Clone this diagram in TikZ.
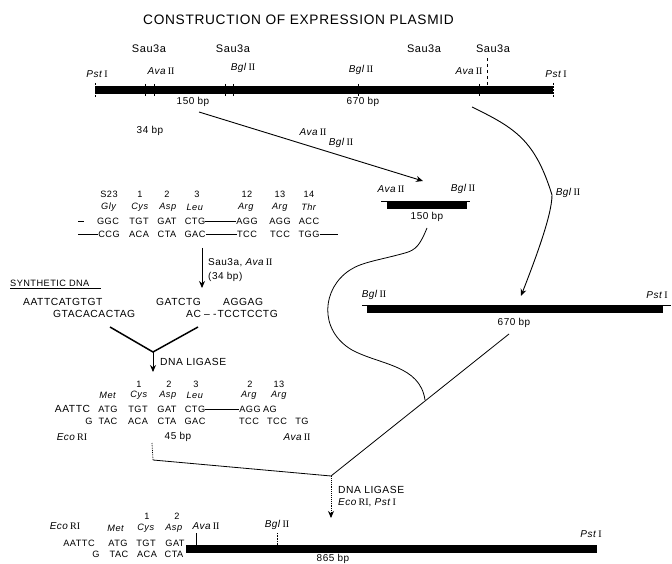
\documentclass[tikz,border=0pt]{standalone}
\usepackage{fontspec}
\setmainfont{Liberation Sans}[LetterSpace=5]
\newfontfamily\romfont{Liberation Serif}
\usetikzlibrary{arrows.meta}
\newcommand{\enz}[2]{\textit{#1}\,{\romfont #2}}
\tikzstyle{txt} = [inner sep=0pt, font=\fontsize{10.3}{11}\selectfont]
\tikzstyle{lab} = [inner sep=0pt, font=\fontsize{10}{11}\selectfont]
\tikzstyle{codon} = [inner sep=0pt, font=\fontsize{9.2}{10}\selectfont]
\tikzstyle{site} = [inner sep=0pt, font=\fontsize{11}{12}\selectfont]
\tikzstyle{bar} = [fill=black, inner sep=0pt, minimum height=8pt]
\tikzstyle{conn} = [line width=0.8pt]
\tikzstyle{arr} = [line width=0.9pt, -{Stealth[length=7pt,width=6pt]}]
\begin{document}
\begin{tikzpicture}[x=1pt,y=-1pt]
	\useasboundingbox (0,0) rectangle (672,564);
	\node[txt, font=\fontsize{13.7}{14}\selectfont] (title) at (298.5,20) {CONSTRUCTION OF EXPRESSION PLASMID};

	% parent plasmid
	\node[bar, minimum width=458pt] (topbar) at (324,90) {};
	\foreach \x in {145,154,225,233,358,479} {
		\draw[line width=0.5pt] (\x,84) -- (\x,96);
	}
	\draw[dashed, line width=0.5pt] (487,58) -- (487,94);
	\draw[densely dotted, line width=0.5pt] (95,83) -- (95,97) (553,83) -- (553,97);
	\foreach \x/\n in {149/a,233/b,424/c,493/d} {
		\node[site] (sau\n) at (\x,49) {Sau3a};
	}
	\node[lab] (psta) at (97,74) {\enz{Pst}{I}};
	\node[lab] (avaa) at (161,71) {\enz{Ava}{II}};
	\node[lab] (bgla) at (243,68) {\enz{Bgl}{II}};
	\node[lab] (bglb) at (361,70) {\enz{Bgl}{II}};
	\node[lab] (avab) at (469,71) {\enz{Ava}{II}};
	\node[lab] (pstb) at (556,74) {\enz{Pst}{I}};
	\node[lab] (bpa) at (193,102) {150 bp};
	\node[lab] (bpb) at (363,102) {670 bp};
	\node[lab] (bpc) at (150,131) {34 bp};

	% 150 bp fragment
	\node[bar, minimum width=80pt] (smallbar) at (427,205) {};
	\draw[line width=0.5pt] (381,201) -- (470,201);
	\node[lab] (avac) at (391,189) {\enz{Ava}{II}};
	\node[lab] (bglc) at (463,189) {\enz{Bgl}{II}};
	\node[lab] (bpd) at (427,217) {150 bp};
	\node[lab] (avad) at (313,132) {\enz{Ava}{II}};
	\node[lab] (bgld) at (341,143) {\enz{Bgl}{II}};
	\coordinate (froma) at (199,112);
	\coordinate (toa) at (423,181);
	\draw[arr] (froma) -- (toa);

	% 670 bp fragment
	\node[bar, minimum width=296pt] (midbar) at (515,309) {};
	\draw[line width=0.5pt] (362,305) -- (671,305);
	\node[lab] (bgle) at (374,295) {\enz{Bgl}{II}};
	\node[lab] (pstc) at (657,295) {\enz{Pst}{I}};
	\node[lab] (bpe) at (514,323) {670 bp};
	\node[lab] (bglf) at (568,193) {\enz{Bgl}{II}};
	\coordinate (fromb) at (472,107);
	\coordinate (tob) at (521,296);
	\draw[arr] (fromb) .. controls (515,128) and (535,140) .. (552,195) .. controls (552,215) and (535,260) .. (tob);

	% first codon table
	\foreach \x/\t/\n in {109/S23/a,140/1/b,167/2/c,197/3/d,247/12/e,280/13/f,309/14/g} {
		\node[codon] (numa\n) at (\x,194) {\t};
	}
	\foreach \x/\t/\n in {109/Gly/a,140/Cys/b,168/Asp/c,195/Leu/d,246/Arg/e,280/Arg/f,309/Thr/g} {
		\node[codon] (nama\n) at (\x,207) {\textit{\t}};
	}
	\foreach \x/\t/\n in {108/GGC/a,139/TGT/b,167/GAT/c,195/CTG/d,247/AGG/e,280/AGG/f,309/ACC/g} {
		\node[codon] (toprowa\n) at (\x,221) {\t};
	}
	\foreach \x/\t/\n in {109/CCG/a,139/ACA/b,167/CTA/c,195/GAC/d,247/TCC/e,280/TCC/f,309/TGG/g} {
		\node[codon] (botrowa\n) at (\x,234) {\t};
	}
	\draw[conn] (78,221) -- (84,221);
	\draw[conn] (toprowad.east) -- (toprowae.west);
	\draw[conn] (78,234) -- (botrowaa.west);
	\draw[conn] (botrowad.east) -- (botrowae.west);
	\draw[conn] (botrowag.east) -- (338,234);

	\coordinate (fromc) at (202,248);
	\coordinate (toc) at (202,288);
	\draw[arr] (fromc) -- (toc);
	\node[lab, anchor=west] (cuta) at (208,263) {Sau3a, \enz{Ava}{II}};
	\node[lab, anchor=west] (cutb) at (208,277) {(34 bp)};

	% synthetic DNA
	\node[codon, anchor=west] (syn) at (10,283) {SYNTHETIC DNA};
	\draw[line width=0.6pt] (10,288) -- (101,288);
	\node[txt, anchor=west] (syna) at (23,302) {AATTCATGTGT};
	\node[txt, anchor=west] (synb) at (53,314) {GTACACACTAG};
	\node[txt, anchor=west] (gat) at (156,302) {GATCTG};
	\node[txt, anchor=west] (agg) at (223,302) {AGGAG};
	\node[txt, anchor=west] (acc) at (186,314) {AC\hspace{3pt}-- -\hspace{1pt}TCCTCCTG};
	\coordinate (yl) at (110,327);
	\coordinate (yr) at (198,327);
	\coordinate (yc) at (153,352);
	\coordinate (yb) at (153,372);
	\draw[line width=1.5pt] (yl) -- (yc) -- (yr);
	\draw[arr] (yc) -- (yb);
	\node[txt, anchor=west] (liga) at (160,362) {DNA LIGASE};

	% second codon table
	\foreach \x/\t/\n in {139/1/a,169/2/b,196/3/c,250/2/d,279/13/e} {
		\node[codon] (numb\n) at (\x,384) {\t};
	}
	\foreach \x/\t/\n in {108/Met/a,139/Cys/b,168/Asp/c,195/Leu/d,249/Arg/e,279/Arg/f} {
		\node[codon] (namb\n) at (\x,395) {\textit{\t}};
	}
	\foreach \x/\t/\n in {108/ATG/b,138/TGT/c,167/GAT/d,195/CTG/e,250/AGG/f,270/AG/g} {
		\node[codon] (toprowb\n) at (\x,409) {\t};
	}
	\node[txt] (toprowba) at (72.5,409) {AATTC};
	\foreach \x/\t/\n in {89/G/a,108/TAC/b,138/ACA/c,167/CTA/d,195/GAC/e,249/TCC/f,277/TCC/g,302/TG/h} {
		\node[codon] (botrowb\n) at (\x,421) {\t};
	}
	\draw[conn] (toprowbe.east) -- (toprowbf.west);
	\node[lab] (ecoa) at (72,437) {\enz{Eco}{RI}};
	\node[lab] (bpf) at (178,437) {45 bp};
	\node[lab] (avae) at (297,437) {\enz{Ava}{II}};

	% ligation
	\coordinate (lefta) at (152,443);
	\coordinate (leftb) at (153,460);
	\coordinate (joina) at (331,476);
	\coordinate (righta) at (509,334);
	\coordinate (tod) at (331,518);
	\draw[conn, densely dotted] (lefta) -- (leftb);
	\draw[conn] (leftb) -- (joina) -- (righta);
	\draw[conn] (427,228) .. controls (420,245) and (416,250) .. (405,253) .. controls (380,260) and (362,262) .. (350,270) .. controls (322,288) and (318,330) .. (352,350) .. controls (380,365) and (420,365) .. (425,400);
	\draw[arr, densely dotted] (joina) -- (tod);
	\node[txt, anchor=west] (ligb) at (338,490) {DNA LIGASE};
	\node[lab, anchor=west] (ecob) at (338,503) {\enz{Eco}{RI}, \enz{Pst}{I}};

	% expression plasmid
	\foreach \x/\t/\n in {147/1/a,177/2/b} {
		\node[codon] (numc\n) at (\x,516) {\t};
	}
	\node[lab] (ecoc) at (65,526) {\enz{Eco}{RI}};
	\foreach \x/\t/\n in {116/Met/a,146/Cys/b,174/Asp/c} {
		\node[codon] (namc\n) at (\x,528) {\textit{\t}};
	}
	\foreach \x/\t/\n in {118/ATG/b,146/TGT/c,175/GAT/d} {
		\node[codon] (toprowc\n) at (\x,543) {\t};
	}
	\node[codon] (toprowca) at (79,543) {AATTC};
	\foreach \x/\t/\n in {96/G/a,119/TAC/b,147/ACA/c,174/CTA/d} {
		\node[codon] (botrowc\n) at (\x,554) {\t};
	}
	\node[bar, minimum width=411pt] (lowbar) at (391.5,549) {};
	\node[lab] (avaf) at (206,526) {\enz{Ava}{II}};
	\node[lab] (bglg) at (277,525) {\enz{Bgl}{II}};
	\node[lab] (pstd) at (591,534) {\enz{Pst}{I}};
	\node[lab] (bpg) at (333,558.5) {865 bp};
	\draw[line width=0.5pt] (196,533) -- (196,545);
	\draw[densely dotted, line width=0.6pt] (277,533) -- (277,545);
\end{tikzpicture}
\end{document}
